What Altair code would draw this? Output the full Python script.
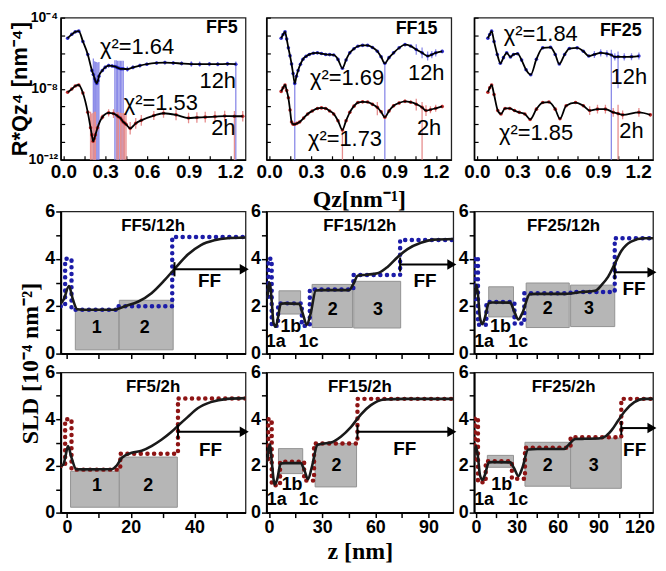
import altair as alt
import pandas as pd

SANS = "Liberation Sans"
SERIF = "Liberation Serif"

# ======================= Reflectivity data (top row) =======================
# q [nm^-1] ; log10(R*Qz^4 [nm^-4]) ; error bar extent below / above (decades)
ff5_12h_q = [0.03, 0.06, 0.085, 0.11, 0.14, 0.175, 0.205, 0.215, 0.225, 0.232, 0.24, 0.248, 0.255, 0.28, 0.30,
             0.325, 0.35, 0.37, 0.38, 0.39, 0.40, 0.41, 0.42, 0.43,
             0.46, 0.50, 0.55, 0.60, 0.67, 0.73, 0.79, 0.85, 0.92, 0.98, 1.05, 1.11, 1.18, 1.24]
ff5_12h_r = [-5.16, -4.94, -4.80, -4.76, -5.34, -6.07, -6.97, -7.2, -7.45, -7.6, -7.70, -7.55, -7.30, -6.97, -6.80,
             -6.70, -6.72, -6.75, -6.78, -6.82, -6.85, -6.88, -6.88, -6.88,
             -6.90, -6.80, -6.70, -6.62, -6.55, -6.53, -6.55, -6.58, -6.61, -6.62, -6.61, -6.62, -6.60, -6.62]
ff5_12h_elo = ([0.05] * 6 + [0.1] + [6] * 6 + [0.1] * 4 + [6] * 7 +
               [0.15, 0.1, 0.1, 0.1, 0.1, 0.1, 0.1, 0.12, 0.15, 0.15, 0.12, 0.12, 0.12, 6])
ff5_12h_ehi = ([0.05] * 6 + [0.1] + [0.9, 1.0, 1.1, 1.2, 1.0, 0.8] + [0.1] * 4 +
               [0.35, 0.38, 0.4, 0.42, 0.45, 0.45, 0.45] +
               [0.15, 0.1, 0.1, 0.1, 0.1, 0.1, 0.1, 0.12, 0.15, 0.15, 0.12, 0.12, 0.12, 0.15])

ff5_2h_q = [0.03, 0.06, 0.085, 0.11, 0.14, 0.175, 0.195, 0.204, 0.213, 0.222, 0.23, 0.245, 0.28, 0.325, 0.36, 0.385,
            0.395, 0.41, 0.42, 0.43, 0.44, 0.45, 0.48, 0.52,
            0.56, 0.65, 0.72, 0.81, 0.90, 0.96, 1.02, 1.09, 1.16, 1.23, 1.29]
ff5_2h_r = [-8.20, -8.02, -7.85, -7.79, -8.24, -9.33, -10.2, -10.6, -10.96, -10.8, -10.6, -10.2, -9.6, -9.36, -9.40,
            -9.51, -9.58, -9.65, -9.76, -9.87, -9.93, -10.0, -10.23, -9.95,
            -9.78, -9.51, -9.38, -9.47, -9.65, -9.62, -9.60, -9.57, -9.54, -9.55, -9.55]
ff5_2h_elo = ([0.05] * 5 + [0.1] + [6] * 5 + [0.2, 0.15, 0.2, 0.25] + [6] * 7 + [0.35, 0.3] +
              [0.3, 0.25, 0.25, 0.3, 0.3, 0.3, 0.3, 0.3, 0.3, 6, 0.3])
ff5_2h_ehi = ([0.05] * 5 + [0.1] + [0.9, 1.2, 1.6, 1.5, 1.3] + [0.2, 0.15, 0.2, 0.25] +
              [0.2, 0.25, 0.3, 0.4, 0.5, 0.55, 0.6] + [0.35, 0.3] +
              [0.3, 0.25, 0.25, 0.3, 0.3, 0.3, 0.3, 0.3, 0.3, 0.3, 0.3])

ff15_12h_q = [0.086, 0.10, 0.114, 0.126, 0.138, 0.15, 0.161, 0.172, 0.184, 0.196, 0.208, 0.225, 0.243, 0.265, 0.289,
              0.318, 0.347, 0.376, 0.406, 0.435, 0.464, 0.495, 0.527, 0.553, 0.58, 0.61, 0.638, 0.672, 0.708, 0.743,
              0.778, 0.805, 0.832, 0.862, 0.895, 0.935, 0.977, 1.018, 1.058, 1.10, 1.14, 1.17, 1.198, 1.245]
ff15_12h_r = [-5.16, -4.95, -4.80, -5.20, -5.70, -6.15, -6.61, -7.15, -7.70, -7.30, -6.97, -6.62, -6.34, -6.18, -6.07,
              -6.00, -5.98, -6.02, -6.07, -6.08, -6.10, -6.35, -6.85, -6.38, -5.98, -5.75, -5.61, -5.56, -5.56, -5.68,
              -5.89, -6.20, -6.57, -6.25, -5.98, -5.70, -5.52, -5.60, -5.79, -5.98, -6.16, -6.08, -5.98, -5.90]
ff15_12h_elo = [0.05] * 8 + [6] + [0.05] * 23 + [6] + [0.05] * 5 + [0.3, 0.3, 0.25, 0.2, 0.2, 0.1]
ff15_12h_ehi = [0.05] * 8 + [0.05] + [0.05] * 23 + [0.05] + [0.05] * 5 + [0.3, 0.3, 0.25, 0.2, 0.2, 0.1]

ff15_2h_q = [0.086, 0.10, 0.114, 0.126, 0.138, 0.15, 0.161, 0.172, 0.184, 0.20, 0.219, 0.248, 0.277, 0.31, 0.347,
             0.376, 0.406, 0.435, 0.464, 0.495, 0.527, 0.553, 0.58, 0.61, 0.638, 0.672, 0.708, 0.743, 0.778, 0.805,
             0.832, 0.862, 0.895, 0.935, 0.977, 1.018, 1.058, 1.10, 1.128, 1.16, 1.198, 1.245]
ff15_2h_r = [-8.15, -7.95, -7.79, -8.10, -8.51, -9.20, -9.87, -10.0, -10.0, -9.95, -9.87, -9.65, -9.42, -9.25, -9.11,
             -9.08, -9.11, -9.25, -9.42, -9.80, -10.32, -9.80, -9.33, -8.98, -8.78, -8.74, -8.75, -8.88, -9.05, -9.30,
             -9.60, -9.25, -8.96, -8.80, -8.71, -8.76, -8.87, -9.05, -9.23, -9.18, -9.10, -9.00]
ff15_2h_elo = [0.06] * 20 + [6] + [0.06] * 7 + [0.45] + [0.1] * 7 + [0.35, 6, 0.3, 0.2, 0.2, 0.1]
ff15_2h_ehi = [0.06] * 20 + [0.06] + [0.06] * 7 + [0.3] + [0.1] * 7 + [0.3, 0.3, 0.3, 0.2, 0.2, 0.1]

ff25_12h_q = [0.082, 0.096, 0.11, 0.128, 0.152, 0.175, 0.198, 0.222, 0.25, 0.273, 0.303, 0.333, 0.366, 0.401, 0.443,
              0.49, 0.548, 0.583, 0.613, 0.653, 0.688, 0.746, 0.792, 0.832, 0.874, 0.921, 0.967, 1.0, 1.026, 1.05,
              1.096, 1.15, 1.205]
ff25_12h_r = [-5.16, -4.95, -4.76, -5.34, -6.07, -6.57, -6.25, -5.98, -6.21, -6.07, -6.03, -6.39, -6.93, -7.21, -6.34,
              -5.70, -5.67, -6.07, -6.61, -6.07, -5.74, -5.70, -5.89, -6.16, -6.07, -5.98, -6.03, -6.10, -6.21, -6.20,
              -6.21, -6.20, -6.16]
ff25_12h_elo = [0.06] * 24 + [0.2, 0.2, 0.2, 6, 0.2, 1.77, 0.2, 0.2, 0.2]
ff25_12h_ehi = [0.06] * 24 + [0.2, 0.2, 0.2, 0.3, 0.2, 0.3, 0.2, 0.2, 0.2]

ff25_2h_q = [0.082, 0.096, 0.11, 0.128, 0.156, 0.18, 0.21, 0.245, 0.28, 0.315, 0.357, 0.396, 0.443, 0.49, 0.536,
             0.583, 0.618, 0.664, 0.734, 0.792, 0.839, 0.897, 0.956, 1.014, 1.05, 1.084, 1.205, 1.29]
ff25_2h_r = [-8.20, -7.95, -7.79, -8.33, -9.23, -9.42, -9.11, -9.11, -9.23, -9.33, -9.42, -9.73, -9.15, -8.78, -8.75,
             -9.15, -9.69, -8.96, -8.78, -8.96, -9.23, -9.15, -9.15, -9.33, -9.40, -9.47, -9.33, -9.47]
ff25_2h_elo = [0.06] * 20 + [0.25, 0.25, 0.25, 0.25, 6, 0.25, 0.25, 0.1]
ff25_2h_ehi = [0.06] * 20 + [0.25, 0.25, 0.25, 0.25, 0.5, 0.25, 0.25, 0.1]

# annotations (text, q, log10 value, kind)
ff5_notes = [("χ²=1.64", 0.53, -5.68, "chi"), ("χ²=1.53", 0.70, -8.78, "chi"),
             ("12h", 1.11, -7.59, "tag"), ("2h", 1.15, -10.2, "tag"), ("FF5", 1.14, -4.58, "name")]
ff15_notes = [("χ²=1.69", 0.56, -7.42, "chi"), ("χ²=1.73", 0.545, -10.85, "chi"),
              ("12h", 1.13, -7.1, "tag"), ("2h", 1.15, -10.2, "tag"), ("FF15", 1.06, -4.62, "name")]
ff25_notes = [("χ²=1.84", 0.475, -4.92, "chi"), ("χ²=1.85", 0.44, -10.52, "chi"),
              ("12h", 1.13, -7.37, "tag"), ("2h", 1.15, -10.36, "tag"), ("FF25", 1.07, -4.78, "name")]

# ======================= SLD profiles (bottom rows) =======================
ff5_12h_step_z = [-2, -0.6, -0.6, 1.4, 1.4, 16, 16, 33, 33, 56]
ff5_12h_step_s = [2.0, 2.0, 4.0, 4.0, 1.85, 1.85, 2.0, 2.0, 4.92, 4.92]
ff5_12h_fit_z = [-2.2, -1, 0.6, 1.8, 3.2, 5, 14.6, 18.2, 22.4, 26.5, 30.6, 33.7, 37.9, 42, 46.2, 50.3, 56]
ff5_12h_fit_s = [2.08, 2.3, 2.85, 2.3, 1.87, 1.85, 1.85, 2.0, 2.2, 2.55, 3.1, 3.57, 4.18, 4.58, 4.78, 4.87, 4.9]
ff5_12h_boxes = [(2.6, 16.2, 0.16, 1.84), (16.4, 33.3, 0.16, 2.25)]
ff5_12h_labels = [("1", 9.3, 1.1), ("2", 24.4, 1.1)]
ff5_12h_arrow = (33.7, 55.6, 3.56)
ff5_12h_ff = (44.7, 3.06)

ff5_2h_step_z = [-2, -0.6, -0.6, 1.4, 1.4, 16.7, 16.7, 34.8, 34.8, 56]
ff5_2h_step_s = [2.0, 2.0, 4.0, 4.0, 1.84, 1.84, 2.52, 2.52, 4.89, 4.89]
ff5_2h_fit_z = [-2, -1.2, -0.5, 0.3, 1.3, 2.9, 5, 14.1, 15.5, 17.2, 20.3, 23.4, 26.5, 29.6, 32.7, 35.3, 37.9, 41,
                45.1, 50.3, 56]
ff5_2h_fit_s = [2.0, 2.05, 2.4, 2.85, 2.4, 1.86, 1.85, 1.86, 2.0, 2.35, 2.56, 2.65, 2.85, 3.12, 3.45, 3.78, 4.1,
                4.47, 4.73, 4.87, 4.9]
ff5_2h_boxes = [(1.1, 16.4, 0.23, 1.77), (16.4, 34.6, 0.23, 2.38)]
ff5_2h_labels = [("1", 9.4, 1.14), ("2", 25.5, 1.14)]
ff5_2h_arrow = (34.8, 55.6, 3.46)
ff5_2h_ff = (45, 2.7)

ff15_12h_step_z = [-0.5, -0.5, 1.5, 1.5, 5.1, 5.1, 18.5, 18.5, 23, 23, 47.6, 47.6, 74, 74, 104]
ff15_12h_step_s = [2.4, 4.0, 4.0, 1.17, 1.17, 2.12, 2.12, 1.17, 1.17, 2.71, 2.71, 3.32, 3.32, 4.8, 4.8]
ff15_12h_fit_z = [-1.5, -0.9, 0, 0.6, 1.5, 2.5, 3.8, 5, 6.6, 9, 17, 19, 21.3, 23.5, 26.4, 30, 45.2, 48, 50, 55,
                  61.2, 66.9, 72.5, 78.2, 85.7, 93.2, 104]
ff15_12h_fit_s = [2.3, 2.45, 3.0, 2.9, 2.2, 1.3, 1.13, 1.5, 2.1, 2.12, 2.1, 1.7, 1.21, 1.7, 2.66, 2.68, 2.68, 3.0,
                  3.29, 3.33, 3.39, 3.66, 4.07, 4.41, 4.68, 4.81, 4.84]
ff15_12h_boxes = [(5.6, 17.8, 1.67, 2.65), (24.3, 47.1, 1.10, 2.92), (47.8, 74.3, 1.08, 3.05)]
ff15_12h_labels = [("1a", 3.8, 0.48), ("1b", 12.3, 1.13), ("1c", 22.4, 0.48), ("2", 36, 1.85), ("3", 61.5, 1.85)]
ff15_12h_arrow = (74, 103.2, 3.76)
ff15_12h_ff = (88, 3.06)

ff15_2h_step_z = [-0.5, -0.5, 1.5, 1.5, 6.2, 6.2, 19.8, 19.8, 25.4, 25.4, 49.9, 49.9, 104]
ff15_2h_step_s = [2.3, 4.0, 4.0, 1.17, 1.17, 2.18, 2.18, 1.37, 1.37, 2.96, 2.96, 4.87, 4.87]
ff15_2h_fit_z = [-1.5, -1.3, -0.3, 0.6, 1.5, 3.2, 4.5, 6.6, 9, 17.9, 20, 22, 24, 27.3, 30, 34.9, 40.5, 46.2, 51.8,
                 57.5, 65, 76.3, 104]
ff15_2h_fit_s = [2.2, 2.15, 2.7, 2.92, 2.2, 1.2, 1.4, 2.1, 2.12, 2.12, 1.8, 1.43, 1.9, 2.9, 2.95, 3.0, 3.25, 3.66,
                 4.2, 4.6, 4.84, 4.87, 4.87]
ff15_2h_boxes = [(5.3, 19, 1.67, 2.74), (26, 49.4, 1.1, 2.96)]
ff15_2h_labels = [("1a", 4.3, 0.55), ("1b", 13, 1.16), ("1c", 22.4, 0.55), ("2", 38, 2.0)]
ff15_2h_arrow = (49.9, 103.2, 3.46)
ff15_2h_ff = (76.6, 2.72)

ff25_12h_step_z = [-0.8, -0.8, 1.5, 1.5, 7.7, 7.7, 28.3, 28.3, 35.5, 35.5, 69.5, 69.5, 101.9, 101.9, 130]
ff25_12h_step_s = [2.3, 4.06, 4.06, 1.22, 1.22, 2.18, 2.18, 1.27, 1.27, 2.55, 2.55, 2.6, 2.6, 4.87, 4.87]
ff25_12h_fit_z = [-1.2, 0.4, 1.5, 3, 4.8, 6.5, 9.6, 12, 25.2, 28, 31.2, 34, 39.6, 45, 65.9, 77.9, 87.5, 92.3, 97.1,
                  101.9, 106.7, 113.9, 123.5, 130.7]
ff25_12h_fit_s = [2.31, 2.9, 2.5, 1.5, 1.24, 1.5, 2.15, 2.16, 2.15, 1.8, 1.44, 1.7, 2.51, 2.52, 2.52, 2.6, 2.65,
                  2.9, 3.25, 3.79, 4.33, 4.73, 4.87, 4.87]
ff25_12h_boxes = [(9.4, 27.6, 1.55, 2.82), (36.9, 68.5, 1.1, 2.98), (69.5, 101.9, 1.14, 2.89)]
ff25_12h_labels = [("1a", 6, 0.48), ("1b", 18, 1.13), ("1c", 31, 0.48), ("2", 52.7, 1.9), ("3", 83, 1.9)]
ff25_12h_arrow = (101.9, 129.2, 3.43)
ff25_12h_ff = (116, 2.74)

ff25_2h_step_z = [-0.8, -0.8, 1.5, 1.5, 7.2, 7.2, 26.4, 26.4, 36, 36, 69.5, 69.5, 106.7, 106.7, 130]
ff25_2h_step_s = [2.3, 4.06, 4.06, 1.3, 1.3, 2.2, 2.2, 1.45, 1.45, 2.78, 2.78, 3.23, 3.23, 4.87, 4.87]
ff25_2h_fit_z = [-1.7, 0, 1.5, 3, 4.8, 6.5, 9.6, 12, 25.2, 28, 31.2, 34, 38.4, 45, 64.7, 68, 73.1, 80, 89.9, 94.7,
                 99.5, 104.3, 109.1, 116.3, 123.5, 130.7]
ff25_2h_fit_s = [2.15, 2.85, 2.4, 1.6, 1.4, 1.6, 2.15, 2.16, 2.15, 1.9, 1.57, 1.9, 2.7, 2.72, 2.72, 2.9, 3.15, 3.16,
                 3.17, 3.25, 3.52, 3.93, 4.33, 4.73, 4.87, 4.87]
ff25_2h_boxes = [(8.4, 27.6, 1.94, 2.45), (36, 69.5, 1.13, 3.01), (69.5, 106.7, 1.04, 3.19)]
ff25_2h_labels = [("1a", 6, 0.55), ("1b", 19, 1.16), ("1c", 31, 0.55), ("2", 52.7, 2.0), ("3", 86.5, 2.0)]
ff25_2h_arrow = (106.7, 129.2, 3.62)
ff25_2h_ff = (116.5, 2.7)

QTICKS = [0, 0.15, 0.3, 0.45, 0.6, 0.75, 0.9, 1.05, 1.2]
DECADES = [10.0 ** k for k in range(-12, -3)]

BLUE_DOT, BLUE_BAR = "#3030d0", "#8a8ae8"
RED_DOT, RED_BAR = "#c42c2c", "#e68e8e"
BLUE_STEP, RED_STEP = "#1c1ca8", "#8e1414"


def refl_df(q, r, elo, ehi):
    return pd.DataFrame({
        "q": q,
        "R": [10 ** v for v in r],
        "lo": [10 ** (v - e) for v, e in zip(r, elo)],
        "hi": [10 ** (v + e) for v, e in zip(r, ehi)],
    })


def refl_panel(curves, notes, width, height, show_ylabels, xtitle=None, ytitle=None):
    xs = alt.Scale(domain=[-0.02, 1.31], nice=False, zero=False)
    ys = alt.Scale(type="log", domain=[1e-12, 1e-4], nice=False)
    xkw = dict(values=QTICKS, labelExpr="round(datum.value*100) % 30 == 0 ? format(datum.value, '.1f') : ''",
               tickSize={"expr": "-4"}, tickWidth=1.2, labelPadding=7, labelFontSize=19, domainWidth=1.5,
               labelFlush=False, title=None)
    if xtitle:
        xkw.update(title=xtitle, titleFont=SERIF, titleFontSize=24, titleFontWeight="bold", titlePadding=6)
    ykw = dict(values=DECADES, tickSize={"expr": "-4"}, tickWidth=1.2, domainWidth=1.5, title=None,
               labels=show_ylabels, labelFontSize=14, labelPadding=7, labelFlush=False,
               labelExpr="abs(log(datum.value)/LN10 + 4) < 0.01 ? '10⁻⁴' : abs(log(datum.value)/LN10 + 8) < 0.01 ? '10⁻⁸' : abs(log(datum.value)/LN10 + 12) < 0.01 ? '10⁻¹²' : ''")
    if ytitle:
        ykw.update(title=ytitle, titleFont=SANS, titleFontSize=22, titleFontWeight="bold", titleX=-41,
                   titleY=height / 2, titleAlign="center", titleBaseline="middle", titleAngle=270)
    xax = alt.Axis(**xkw)
    yax = alt.Axis(**ykw)

    def X(f):
        return alt.X(f, type="quantitative", scale=xs, axis=xax)

    def Y(f):
        return alt.Y(f, type="quantitative", scale=ys, axis=yax)

    layers = []
    for df, dot, bar in curves:
        base = alt.Chart(df)
        layers.append(base.mark_rule(color=bar, strokeWidth=1.3, clip=True).encode(x=X("q"), y=Y("lo"), y2="hi"))
    for df, dot, bar in curves:
        base = alt.Chart(df)
        layers.append(base.mark_circle(color=dot, size=13, opacity=1, clip=True).encode(x=X("q"), y=Y("R")))
        layers.append(base.mark_line(color="black", strokeWidth=1.8, interpolate="monotone", clip=True)
                      .encode(x=X("q"), y=Y("R")))
    styles = {"chi": dict(fontSize=22, fontWeight="normal"),
              "tag": dict(fontSize=22, fontWeight="normal"),
              "name": dict(fontSize=18, fontWeight="bold")}
    for kind, st in styles.items():
        rows = [n for n in notes if n[3] == kind]
        tdf = pd.DataFrame({"t": [n[0] for n in rows], "q": [n[1] for n in rows],
                            "v": [10 ** n[2] for n in rows]})
        layers.append(alt.Chart(tdf).mark_text(font=SANS, color="black", align="center", baseline="middle", **st)
                      .encode(x=X("q"), y=Y("v"), text="t:N"))
    return alt.layer(*layers).properties(width=width, height=height)


def sld_panel(step_z, step_s, fit_z, fit_s, boxes, labels, arrow, ff, title, color, xdom, xticks, lab_step,
              width, height, show_xlabels, xtitle=None, ytitle=None):
    xs = alt.Scale(domain=xdom, nice=False, zero=False)
    ys = alt.Scale(domain=[0, 6], nice=False, zero=False)
    xkw = dict(values=xticks, labelExpr=f"datum.value % {lab_step} == 0 ? datum.label : ''", labels=show_xlabels,
               tickSize=5, tickWidth=1.5, domainWidth=2, labelFontSize=18, labelPadding=1, labelFlush=False,
               title=None)
    if xtitle:
        xkw.update(title=xtitle, titleFont=SERIF, titleFontSize=24, titleFontWeight="bold", titlePadding=3)
    ykw = dict(values=[0, 1, 2, 3, 4, 5, 6], labelExpr="datum.value % 2 == 0 ? datum.label : ''", tickSize=5,
               tickWidth=1.5, domainWidth=2, labelFontSize=18, labelPadding=1, labelFlush=False, title=None)
    if ytitle:
        ykw.update(title=ytitle, titleFont=SERIF, titleFontSize=24, titleFontWeight="bold", titleX=-30,
                   titleY=height + 9.5, titleAngle=270, titleAlign="center", titleBaseline="middle")
    xax = alt.Axis(**xkw)
    yax = alt.Axis(**ykw)

    def X(f):
        return alt.X(f, type="quantitative", scale=xs, axis=xax)

    def Y(f):
        return alt.Y(f, type="quantitative", scale=ys, axis=yax)

    bdf = pd.DataFrame(boxes, columns=["z1", "z2", "s1", "s2"])
    ldf = pd.DataFrame(labels, columns=["t", "z", "s"])
    sdf = pd.DataFrame({"i": list(range(len(step_z))), "z": step_z, "s": step_s})
    fdf = pd.DataFrame({"z": fit_z, "s": fit_s})
    adf = pd.DataFrame({"z0": [arrow[0]], "z1": [arrow[1]], "s": [arrow[2]],
                        "lo": [arrow[2] - 0.3], "hi": [arrow[2] + 0.3]})
    ffdf = pd.DataFrame({"z": [ff[0]], "s": [ff[1]], "t": ["FF"]})
    tdf = pd.DataFrame({"t": [title]})

    layers = [
        alt.Chart(bdf).mark_rect(fill="#b6b6b6", stroke="#929292", strokeWidth=1)
        .encode(x=X("z1"), x2="z2", y=Y("s1"), y2="s2"),
        alt.Chart(sdf).mark_line(color=color, strokeWidth=4.5, strokeDash=[0.1, 6.6], strokeCap="round", clip=True)
        .encode(x=X("z"), y=Y("s"), order="i:Q"),
        alt.Chart(fdf).mark_line(color="#1a1a1a", strokeWidth=2.6, interpolate="monotone", clip=True)
        .encode(x=X("z"), y=Y("s")),
        alt.Chart(adf).mark_rule(color="black", strokeWidth=2).encode(x=X("z0"), x2="z1", y=Y("s")),
        alt.Chart(adf).mark_rule(color="black", strokeWidth=2).encode(x=X("z0"), y=Y("lo"), y2="hi"),
        alt.Chart(adf).mark_point(shape="triangle-right", filled=True, color="black", size=110, opacity=1)
        .encode(x=X("z1"), y=Y("s")),
        alt.Chart(ffdf).mark_text(font=SANS, fontWeight="bold", fontSize=19, color="black")
        .encode(x=X("z"), y=Y("s"), text="t:N"),
        alt.Chart(ldf).mark_text(font=SANS, fontWeight="bold", fontSize=18, color="black")
        .encode(x=X("z"), y=Y("s"), text="t:N"),
        alt.Chart(tdf).mark_text(font=SANS, fontWeight="bold", fontSize=17, color="black", baseline="middle")
        .encode(x=alt.value(width / 2), y=alt.value(15), text="t:N"),
    ]
    return alt.layer(*layers).properties(width=width, height=height)


def spacer(h):
    return (alt.Chart(pd.DataFrame({"a": [0]})).mark_point(opacity=0)
            .encode(x=alt.value(0), y=alt.value(0))
            .properties(width=10, height=h, view=alt.ViewBackground(stroke="transparent")))


# ---------------- assemble ----------------
TW = [186, 186, 180]
TH = 143
BW = [186, 188, 180]
BH2, BH3 = 143, 141
GAP = 14

T5 = [0, 10, 20, 30, 40, 50]
T15 = [0, 15, 30, 45, 60, 75, 90]
T25 = [0, 15, 30, 45, 60, 75, 90, 105, 120]

panels = [
    refl_panel([(refl_df(ff5_12h_q, ff5_12h_r, ff5_12h_elo, ff5_12h_ehi), BLUE_DOT, BLUE_BAR),
                (refl_df(ff5_2h_q, ff5_2h_r, ff5_2h_elo, ff5_2h_ehi), RED_DOT, RED_BAR)],
               ff5_notes, TW[0], TH, True, ytitle="R*Qz⁴ [nm⁻⁴]"),
    refl_panel([(refl_df(ff15_12h_q, ff15_12h_r, ff15_12h_elo, ff15_12h_ehi), BLUE_DOT, BLUE_BAR),
                (refl_df(ff15_2h_q, ff15_2h_r, ff15_2h_elo, ff15_2h_ehi), RED_DOT, RED_BAR)],
               ff15_notes, TW[1], TH, False, xtitle="Qz[nm⁻¹]"),
    refl_panel([(refl_df(ff25_12h_q, ff25_12h_r, ff25_12h_elo, ff25_12h_ehi), BLUE_DOT, BLUE_BAR),
                (refl_df(ff25_2h_q, ff25_2h_r, ff25_2h_elo, ff25_2h_ehi), RED_DOT, RED_BAR)],
               ff25_notes, TW[2], TH, False),
    spacer(GAP), spacer(GAP), spacer(GAP),
    sld_panel(ff5_12h_step_z, ff5_12h_step_s, ff5_12h_fit_z, ff5_12h_fit_s, ff5_12h_boxes, ff5_12h_labels,
              ff5_12h_arrow, ff5_12h_ff, "FF5/12h", BLUE_STEP, [-2, 56], T5, 20, BW[0], BH2, False,
              ytitle="SLD [10⁻⁴ nm⁻²]"),
    sld_panel(ff15_12h_step_z, ff15_12h_step_s, ff15_12h_fit_z, ff15_12h_fit_s, ff15_12h_boxes, ff15_12h_labels,
              ff15_12h_arrow, ff15_12h_ff, "FF15/12h", BLUE_STEP, [-1.5, 104], T15, 30, BW[1], BH2, False),
    sld_panel(ff25_12h_step_z, ff25_12h_step_s, ff25_12h_fit_z, ff25_12h_fit_s, ff25_12h_boxes, ff25_12h_labels,
              ff25_12h_arrow, ff25_12h_ff, "FF25/12h", BLUE_STEP, [-1.3, 130], T25, 30, BW[2], BH2, False),
    sld_panel(ff5_2h_step_z, ff5_2h_step_s, ff5_2h_fit_z, ff5_2h_fit_s, ff5_2h_boxes, ff5_2h_labels,
              ff5_2h_arrow, ff5_2h_ff, "FF5/2h", RED_STEP, [-2, 56], T5, 20, BW[0], BH3, True),
    sld_panel(ff15_2h_step_z, ff15_2h_step_s, ff15_2h_fit_z, ff15_2h_fit_s, ff15_2h_boxes, ff15_2h_labels,
              ff15_2h_arrow, ff15_2h_ff, "FF15/2h", RED_STEP, [-1.5, 104], T15, 30, BW[1], BH3, True,
              xtitle="z [nm]"),
    sld_panel(ff25_2h_step_z, ff25_2h_step_s, ff25_2h_fit_z, ff25_2h_fit_s, ff25_2h_boxes, ff25_2h_labels,
              ff25_2h_arrow, ff25_2h_ff, "FF25/2h", RED_STEP, [-1.3, 130], T25, 30, BW[2], BH3, True),
]

chart = (
    alt.concat(*panels, columns=3, spacing={"row": 19, "column": 21}, bounds="flush")
    .properties(padding={"left": 0, "top": 0, "right": 0, "bottom": 0}, background="white")
    .configure_view(stroke="#222222", strokeWidth=1.3)
    .configure_axis(grid=False, labelFont=SANS, labelFontWeight="bold", labelColor="black", tickColor="black",
                    domainColor="black", titleColor="black")
)

chart.save("out.html", embed_options={"renderer": "svg", "actions": False})
